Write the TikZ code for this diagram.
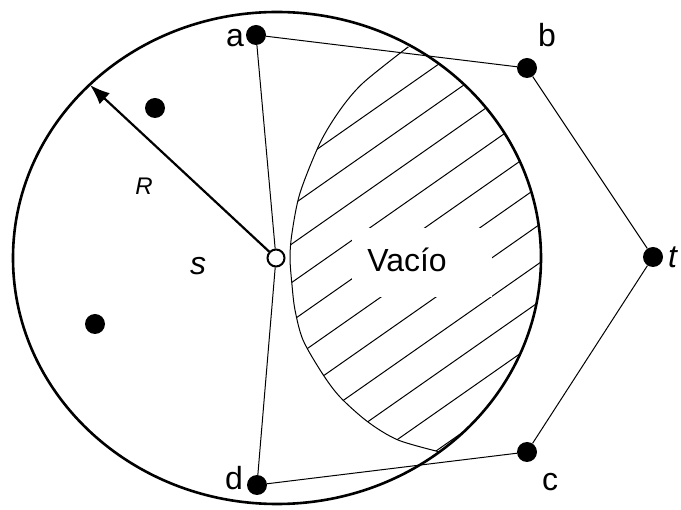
\documentclass[tikz,border=0pt]{standalone}
\usepackage{fontspec}
\setmainfont{Liberation Sans}
\usetikzlibrary{arrows.meta}
\tikzset{
  dot/.style={circle, fill=black, inner sep=0pt, minimum size=20pt},
  hollow/.style={circle, draw=black, line width=2pt, fill=white, inner sep=0pt, minimum size=17pt},
  thinline/.style={line width=1pt},
  lbl/.style={font=\fontsize{32}{38}\selectfont, inner sep=0pt},
  ilbl/.style={font=\fontsize{32}{38}\selectfont\itshape, inner sep=0pt},
}
\begin{document}
\begin{tikzpicture}[x=1pt, y=-1pt]
\useasboundingbox (0,0) rectangle (681,510);
% hatched lens
\begin{scope}
  \clip (277,258) ellipse [x radius=264pt, y radius=246pt];
  \clip plot[smooth] coordinates {(408,47) (363,83) (340,110) (320,143) (300,193) (292,233) (290,258) (292,285) (295,310) (303,340) (322,373) (340,397) (368,422) (398,440) (440,452)} -- (700,460) -- (700,40) -- cycle;
  \foreach \n in {-11,...,6}
    \draw[thinline] (0,{640.7+38.5*\n}) -- (700,{640.7+38.5*\n-490});
  \fill[white] (352,228) rectangle (492,297);
\end{scope}
\draw[thinline] plot[smooth] coordinates {(408,47) (363,83) (340,110) (320,143) (300,193) (292,233) (290,258) (292,285) (295,310) (303,340) (322,373) (340,397) (368,422) (398,440) (440,452)};
\draw[line width=2.6pt] (277,258) ellipse [x radius=264pt, y radius=246pt];
% points
\node[dot] (a) at (256,35) {};
\node[dot] (b) at (527,68) {};
\node[dot] (t) at (653,257) {};
\node[dot] (c) at (527,452) {};
\node[dot] (d) at (257,485) {};
\node[dot] (p1) at (155,108) {};
\node[dot] (p2) at (95,324) {};
\node[hollow] (s) at (276,258) {};
\coordinate (rtip) at (90,85);
% polygon
\draw[thinline] (a) -- (b) -- (t) -- (c) -- (d) -- (s) -- (a);
\draw[line width=2.2pt, -{Latex[length=20pt, width=15pt]}] (s) -- (rtip);
% labels
\node[lbl] (la) at (235,38) {a};
\node[lbl] (lb) at (547,35) {b};
\node[lbl] (lc) at (550,482) {c};
\node[lbl] (ld) at (234,478) {d};
\node[ilbl, anchor=west] (lt) at (668,257) {t};
\node[ilbl] (ls) at (198,266) {s};
\node[font=\fontsize{24}{28}\selectfont\itshape, inner sep=0pt] (lR) at (144,186) {R};
\node[lbl] (vac) at (407,260) {Vacío};
\end{tikzpicture}
\end{document}
